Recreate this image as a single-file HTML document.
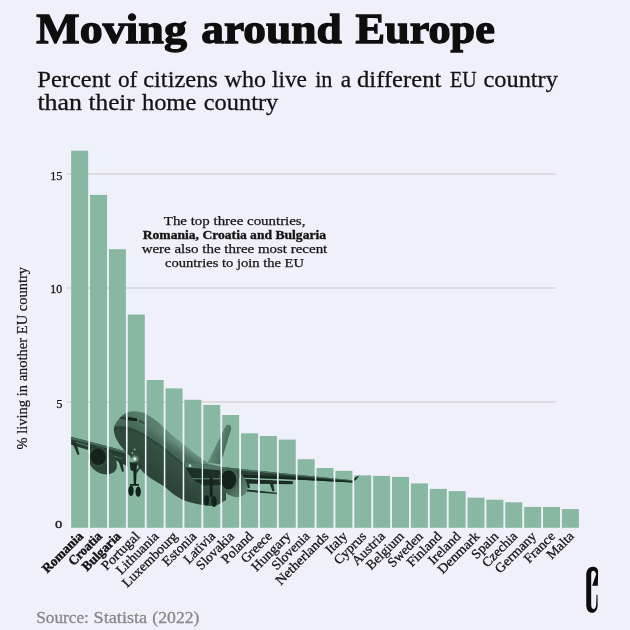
<!DOCTYPE html>
<html><head><meta charset="utf-8"><title>Moving around Europe</title>
<style>html,body{margin:0;padding:0;background:#F0F0FA;} body{width:630px;height:630px;overflow:hidden;font-family:"Liberation Serif",serif;} svg{display:block;will-change:transform}</style>
</head><body>
<svg width="630" height="630" viewBox="0 0 630 630" font-family='"Liberation Serif", serif'>
<rect x="0" y="0" width="630" height="630" fill="#F0F0FA"/>
<text x="36.3" y="42.9" font-size="43" font-weight="700" fill="#0E0E0E" textLength="150.6" lengthAdjust="spacingAndGlyphs" stroke="#0E0E0E" stroke-width="1.3">Moving</text>
<text x="201.3" y="42.9" font-size="43" font-weight="700" fill="#0E0E0E" textLength="140.5" lengthAdjust="spacingAndGlyphs" stroke="#0E0E0E" stroke-width="1.3">around</text>
<text x="355.6" y="42.9" font-size="43" font-weight="700" fill="#0E0E0E" textLength="139.2" lengthAdjust="spacingAndGlyphs" stroke="#0E0E0E" stroke-width="1.3">Europe</text>
<text x="37.3" y="87.3" font-size="23.5" font-weight="400" fill="#141414" textLength="73.5" lengthAdjust="spacingAndGlyphs" stroke="#141414" stroke-width="0.3">Percent</text>
<text x="117.9" y="87.3" font-size="23.5" font-weight="400" fill="#141414" textLength="19.4" lengthAdjust="spacingAndGlyphs" stroke="#141414" stroke-width="0.3">of</text>
<text x="143.2" y="87.3" font-size="23.5" font-weight="400" fill="#141414" textLength="74.7" lengthAdjust="spacingAndGlyphs" stroke="#141414" stroke-width="0.3">citizens</text>
<text x="224.6" y="87.3" font-size="23.5" font-weight="400" fill="#141414" textLength="41.3" lengthAdjust="spacingAndGlyphs" stroke="#141414" stroke-width="0.3">who</text>
<text x="271.9" y="87.3" font-size="23.5" font-weight="400" fill="#141414" textLength="35.1" lengthAdjust="spacingAndGlyphs" stroke="#141414" stroke-width="0.3">live</text>
<text x="315.2" y="87.3" font-size="23.5" font-weight="400" fill="#141414" textLength="17.3" lengthAdjust="spacingAndGlyphs" stroke="#141414" stroke-width="0.3">in</text>
<text x="340.8" y="87.3" font-size="23.5" font-weight="400" fill="#141414" textLength="10.4" lengthAdjust="spacingAndGlyphs" stroke="#141414" stroke-width="0.3">a</text>
<text x="357.0" y="87.3" font-size="23.5" font-weight="400" fill="#141414" textLength="84.3" lengthAdjust="spacingAndGlyphs" stroke="#141414" stroke-width="0.3">different</text>
<text x="450.1" y="87.3" font-size="23.5" font-weight="400" fill="#141414" textLength="26.6" lengthAdjust="spacingAndGlyphs" stroke="#141414" stroke-width="0.3">EU</text>
<text x="483.5" y="87.3" font-size="23.5" font-weight="400" fill="#141414" textLength="74.4" lengthAdjust="spacingAndGlyphs" stroke="#141414" stroke-width="0.3">country</text>
<text x="37.4" y="110.0" font-size="23.5" font-weight="400" fill="#141414" textLength="44.6" lengthAdjust="spacingAndGlyphs" stroke="#141414" stroke-width="0.3">than</text>
<text x="88.5" y="110.0" font-size="23.5" font-weight="400" fill="#141414" textLength="46.3" lengthAdjust="spacingAndGlyphs" stroke="#141414" stroke-width="0.3">their</text>
<text x="141.9" y="110.0" font-size="23.5" font-weight="400" fill="#141414" textLength="54.4" lengthAdjust="spacingAndGlyphs" stroke="#141414" stroke-width="0.3">home</text>
<text x="203.8" y="110.0" font-size="23.5" font-weight="400" fill="#141414" textLength="74.4" lengthAdjust="spacingAndGlyphs" stroke="#141414" stroke-width="0.3">country</text>
<line x1="66.9" x2="555.5" y1="174" y2="174" stroke="#DBDBE0" stroke-width="1.9"/>
<line x1="66.9" x2="555.5" y1="288" y2="288" stroke="#DBDBE0" stroke-width="1.9"/>
<line x1="66.9" x2="555.5" y1="402" y2="402" stroke="#DBDBE0" stroke-width="1.9"/>
<g fill="#89B8A2"><rect x="71.15" y="150.7" width="17.0" height="377.1"/><rect x="90.03" y="194.9" width="17.0" height="332.9"/><rect x="108.90" y="249.2" width="17.0" height="278.6"/><rect x="127.78" y="314.5" width="17.0" height="213.3"/><rect x="146.65" y="380" width="17.0" height="147.8"/><rect x="165.53" y="388.4" width="17.0" height="139.4"/><rect x="184.40" y="399.8" width="17.0" height="128.0"/><rect x="203.28" y="404.9" width="17.0" height="122.9"/><rect x="222.15" y="415" width="17.0" height="112.8"/><rect x="241.03" y="433.3" width="17.0" height="94.5"/><rect x="259.90" y="436" width="17.0" height="91.8"/><rect x="278.77" y="439.6" width="17.0" height="88.2"/><rect x="297.65" y="459.2" width="17.0" height="68.6"/><rect x="316.52" y="468" width="17.0" height="59.8"/><rect x="335.40" y="470.8" width="17.0" height="57.0"/><rect x="354.27" y="475.4" width="17.0" height="52.4"/><rect x="373.15" y="475.9" width="17.0" height="51.9"/><rect x="392.02" y="476.9" width="17.0" height="50.9"/><rect x="410.90" y="483.4" width="17.0" height="44.4"/><rect x="429.77" y="488.9" width="17.0" height="38.9"/><rect x="448.65" y="491.1" width="17.0" height="36.7"/><rect x="467.52" y="497.7" width="17.0" height="30.1"/><rect x="486.40" y="499.7" width="17.0" height="28.1"/><rect x="505.27" y="502.3" width="17.0" height="25.5"/><rect x="524.15" y="506.9" width="17.0" height="20.9"/><rect x="543.02" y="507" width="17.0" height="20.8"/><rect x="561.90" y="509.1" width="17.0" height="18.7"/></g>
<clipPath id="barclip"><rect x="71.15" y="150.7" width="17.0" height="377.1"/><rect x="90.03" y="194.9" width="17.0" height="332.9"/><rect x="108.90" y="249.2" width="17.0" height="278.6"/><rect x="127.78" y="314.5" width="17.0" height="213.3"/><rect x="146.65" y="380" width="17.0" height="147.8"/><rect x="165.53" y="388.4" width="17.0" height="139.4"/><rect x="184.40" y="399.8" width="17.0" height="128.0"/><rect x="203.28" y="404.9" width="17.0" height="122.9"/><rect x="222.15" y="415" width="17.0" height="112.8"/><rect x="241.03" y="433.3" width="17.0" height="94.5"/><rect x="259.90" y="436" width="17.0" height="91.8"/><rect x="278.77" y="439.6" width="17.0" height="88.2"/><rect x="297.65" y="459.2" width="17.0" height="68.6"/><rect x="316.52" y="468" width="17.0" height="59.8"/><rect x="335.40" y="470.8" width="17.0" height="57.0"/><rect x="354.27" y="475.4" width="17.0" height="52.4"/><rect x="373.15" y="475.9" width="17.0" height="51.9"/><rect x="392.02" y="476.9" width="17.0" height="50.9"/><rect x="410.90" y="483.4" width="17.0" height="44.4"/><rect x="429.77" y="488.9" width="17.0" height="38.9"/><rect x="448.65" y="491.1" width="17.0" height="36.7"/><rect x="467.52" y="497.7" width="17.0" height="30.1"/><rect x="486.40" y="499.7" width="17.0" height="28.1"/><rect x="505.27" y="502.3" width="17.0" height="25.5"/><rect x="524.15" y="506.9" width="17.0" height="20.9"/><rect x="543.02" y="507" width="17.0" height="20.8"/><rect x="561.90" y="509.1" width="17.0" height="18.7"/></clipPath>
<g clip-path="url(#barclip)"><defs>
<linearGradient id="fus" gradientUnits="userSpaceOnUse" x1="173" y1="436" x2="149" y2="474">
<stop offset="0" stop-color="#6E9883"/><stop offset="0.1" stop-color="#668F7B"/><stop offset="0.24" stop-color="#4A6E5C"/><stop offset="0.5" stop-color="#385544"/><stop offset="1" stop-color="#2C4336"/>
</linearGradient>
<linearGradient id="fin" gradientUnits="userSpaceOnUse" x1="213" y1="445" x2="227" y2="450">
<stop offset="0" stop-color="#73A08B"/><stop offset="0.22" stop-color="#5C8671"/><stop offset="1" stop-color="#446856"/>
</linearGradient>
<radialGradient id="lamp" gradientUnits="userSpaceOnUse" cx="134.8" cy="459" r="5.5">
<stop offset="0" stop-color="#CFE8DB"/><stop offset="0.35" stop-color="#8FBCA6" stop-opacity="0.8"/><stop offset="1" stop-color="#3A5847" stop-opacity="0"/>
</radialGradient>
<linearGradient id="wng" gradientUnits="userSpaceOnUse" x1="222" y1="0" x2="352" y2="0"><stop offset="0" stop-color="#2E4639"/><stop offset="0.5" stop-color="#263B2F"/><stop offset="1" stop-color="#1C3026"/></linearGradient>
<linearGradient id="nac2" gradientUnits="userSpaceOnUse" x1="225" y1="480" x2="246" y2="494"><stop offset="0" stop-color="#35503F"/><stop offset="1" stop-color="#5E8873"/></linearGradient>
<linearGradient id="noseg" gradientUnits="userSpaceOnUse" x1="120" y1="430" x2="190" y2="480"><stop offset="0" stop-color="#2E4639" stop-opacity="0.8"/><stop offset="0.45" stop-color="#2E4639" stop-opacity="0.55"/><stop offset="1" stop-color="#2E4639" stop-opacity="0.25"/></linearGradient>
<linearGradient id="noseu" gradientUnits="userSpaceOnUse" x1="118" y1="420" x2="176" y2="448"><stop offset="0" stop-color="#476A58" stop-opacity="0.75"/><stop offset="0.55" stop-color="#476A58" stop-opacity="0.5"/><stop offset="1" stop-color="#476A58" stop-opacity="0"/></linearGradient>
</defs>
<!-- tail fin -->
<path d="M207.5,462.5 L225.6,426.2 C226.4,424.4 229.6,424 230.8,426.2 C231.4,427.4 231.2,429 230.7,430.5 L220.3,464.6 Z" fill="url(#fin)"/>
<!-- left wing -->
<path d="M70.5,436.6 L90,441.8 L112,447.4 L128,452 L128,466.5 L112,458.5 L90,450.5 L70.5,444.7 Z" fill="#263D31"/>
<path d="M70.5,436.6 L90,441.8 L112,447.4 L128,452 L128,454.2 L112,449.7 L90,444.1 L70.5,439 Z" fill="#446856"/>
<path d="M76,442 L88,445.6 L88,446.4 L76,442.8 Z" fill="#8FBCA6" opacity="0.6"/>
<path d="M112,455 L122,458.2 L122,459 L112,455.8 Z" fill="#8FBCA6" opacity="0.55"/>
<path d="M72,442 L76.5,443.5 L79.5,454.5 L77.5,454.8 Z" fill="#1E3328"/>
<path d="M118.5,461 L122.5,462.5 L124,471.5 L122,471.8 Z" fill="#1E3328"/>
<!-- fuselage -->
<path d="M113.8,429.8 C114,426.5 115,424.5 116.5,422.3 C118.5,419.5 121,416.3 124.3,414 C126.5,412.5 129,411.6 131.9,411.5 C136,411.3 140.5,411.7 144.3,413.1 L150,416.4 L157.6,421.7 L165.2,428.8 L170,433.4 L182.6,443.6 L195,453.8 L207.5,463 L226,468 L226,500 L215.6,506 C207,506 197,504.5 183.4,500.2 L174.5,495 L164.4,486.4 L150.4,477.9 L144,472.9 L126.8,452.6 C119,445 114.4,437 113.8,429.8 Z" fill="url(#fus)"/>
<!-- nose: upper part tone + below-cheatline darkening -->
<path d="M113.8,429.8 C114,426.5 115,424.5 116.5,422.3 C118.5,419.5 121,416.3 124.3,414 C126.5,412.5 129,411.6 131.9,411.5 C136,411.3 140.5,411.7 144.3,413.1 L150,416.4 L157.6,421.7 L165.2,428.8 L170,433.4 L182.6,443.6 L172,455 L159.5,445 L143.3,434.5 C134,429.3 124,426 114.2,427.6 Z" fill="url(#noseu)"/>
<path d="M114.2,427.6 C124,426 134,429.3 143.3,434.5 L159.5,445 L185,466 L226,470 L226,500 L215.6,506 C207,506 197,504.5 183.4,500.2 L174.5,495 L164.4,486.4 L150.4,477.9 L144,472.9 L126.8,452.6 C119,445 114.4,437 113.8,429.8 Z" fill="url(#noseg)"/>
<!-- cockpit windows -->
<path d="M119.3,418.6 L121.5,416.6 L126.4,416.9 L126.2,419.9 Z" fill="#2A4033"/>
<path d="M128,417 L137.2,418.6 L137,421.2 L127.8,420.2 Z" fill="#14231A"/>
<path d="M138.6,419.4 L144.3,421.6 L144.6,424.6 L139,422.6 Z" fill="#3A5847"/>
<!-- cheatline -->
<path d="M114.6,427.2 C124,425.6 134,428.8 143.3,434.2 L159.5,444.6 L185,465.6" fill="none" stroke="#1E3328" stroke-width="0.9"/>
<path d="M114.4,428.8 C124,427.3 134,430.5 143.3,435.9 L159.5,446.3 L185,467.2" fill="none" stroke="#1E3328" stroke-width="0.5" opacity="0.8"/>
<!-- right wing -->
<path d="M183,461.8 L200,463.5 L221.5,467 L241,469 L241,478 L222,481 L190,482 Z" fill="#3A5847"/>
<path d="M221.5,467 L241,469 L295,474.5 L352.5,480.2 L353,482.6 L295,479.4 L241,477.4 L221.5,477.6 Z" fill="url(#wng)"/>
<path d="M221.5,467 L241,469 L295,474.5 L352.5,480.2 L352.5,481 L295,475.7 L241,470.6 L221.5,468.8 Z" fill="#527A66" opacity="0.85"/>
<path d="M241,474.6 L295,477.6 L352.5,481.4 L353,482.6 L295,479.4 L241,477.4 Z" fill="#16271E"/>
<path d="M183,461.8 L200,463.5 L221.5,467 L221.5,470.5 L185.5,467.6 Z" fill="#4E7663"/>
<path d="M185.5,467.6 L221.5,470.5 L222,478 L192,478 Z" fill="#1C3026"/>
<path d="M192,478.4 L221,478.4 L221,479.2 L192,479.2 Z" fill="#7FAF98" opacity="0.6"/>
<path d="M192.5,479.6 L221,479.6 L221,485 L203,485.5 Z" fill="#182A20"/>
<path d="M245,479 L293,481.2 L292.5,484.3 L245,483.6 Z" fill="#1A2C22"/>
<!-- winglet -->
<path d="M353,481.8 L354.4,478 L359.6,475 L356.4,479.6 Z" fill="#1C3026"/>
<!-- flap fairings right -->
<path d="M244,479.5 L248.5,480 L250,488 L247.8,488.3 Z" fill="#1E3328"/>
<path d="M268.5,480 L272.5,480.5 L274.5,491 L272.3,491.3 Z" fill="#1E3328"/>
<!-- stabilizer -->
<path d="M247,489.4 L277.5,492.8 L277.5,494 L247,491.6 Z" fill="#1C3026"/>
<!-- engine 2 -->
<path d="M219,477 C220,469 227,467 233,469 C241,471 247.5,480 247.5,488 C247.5,494.5 241,498 235,497 C226,495.5 218.5,487 219,477 Z" fill="url(#nac2)"/>
<ellipse cx="229" cy="479.6" rx="9.6" ry="11.2" fill="#41624F"/>
<ellipse cx="228.6" cy="479.7" rx="7.6" ry="9.5" fill="#14231A"/>
<!-- engine 1 -->
<path d="M88,455 C89,449 94,446.5 99,447 C108,448 116.9,456 116.9,466 C116.9,472.5 110,475 104,474.3 C95,473 87.5,465 88,455 Z" fill="#2E4639"/>
<ellipse cx="98.3" cy="456.9" rx="9" ry="9.5" fill="#35523F"/>
<ellipse cx="98.1" cy="456.7" rx="7.9" ry="8.4" fill="#14231A"/>
<!-- nose gear -->
<path d="M133,462 L137,462 L136,485 L133.8,485 Z" fill="#16271E"/>
<path d="M129.8,462 L133.5,462.5 L133.5,471.5 L130.5,470 Z" fill="#16271E"/>
<path d="M135,472 L141,465 L142,466 L136,474 Z" fill="#22362B"/>
<ellipse cx="131" cy="490.8" rx="2.7" ry="5.2" fill="#12211A"/>
<ellipse cx="138.2" cy="491.6" rx="2.7" ry="5.2" fill="#12211A"/>
<rect x="130" y="484" width="9" height="1.8" fill="#16271E"/>
<circle cx="134.8" cy="459" r="5.5" fill="url(#lamp)"/>
<circle cx="134.8" cy="459" r="1.4" fill="#D8EEE2"/>
<circle cx="134.6" cy="449.5" r="1" fill="#9CC7B2" opacity="0.8"/>
<circle cx="132.4" cy="453" r="0.9" fill="#9CC7B2" opacity="0.8"/>
<!-- main gear -->
<rect x="209.8" y="477.9" width="2.8" height="19" fill="#14231A"/>
<ellipse cx="206.6" cy="500.3" rx="2.5" ry="5.3" fill="#12211A"/>
<ellipse cx="214" cy="501.5" rx="2.6" ry="5.5" fill="#12211A"/>
<circle cx="190" cy="465.7" r="1.4" fill="#B5DCC8"/>
</g>
<text x="50.2" y="180.3" font-size="13" font-weight="400" fill="#141414" textLength="12.2" lengthAdjust="spacingAndGlyphs" stroke="#141414" stroke-width="0.25">15</text>
<text x="50.2" y="292.9" font-size="11.6" font-weight="400" fill="#141414" textLength="11.9" lengthAdjust="spacingAndGlyphs" stroke="#141414" stroke-width="0.3">10</text>
<text x="56.2" y="408.2" font-size="13.4" font-weight="400" fill="#141414" textLength="6.2" lengthAdjust="spacingAndGlyphs" stroke="#141414" stroke-width="0.25">5</text>
<text x="55.1" y="528.4" font-size="11" font-weight="400" fill="#141414" textLength="7.3" lengthAdjust="spacingAndGlyphs" stroke="#141414" stroke-width="0.3">0</text>
<g transform="translate(26.7,449.5) rotate(-90)"><text x="0" y="0" font-size="14" font-weight="400" fill="#141414" textLength="182.6" lengthAdjust="spacingAndGlyphs" stroke="#141414" stroke-width="0.2">% living in another EU country</text></g>
<g transform="translate(83.95,537) rotate(-45)"><text x="0" y="0" font-size="13.4" font-weight="700" fill="#141414" text-anchor="end" textLength="52.0" lengthAdjust="spacingAndGlyphs" stroke="#141414" stroke-width="0.4">Romania</text></g>
<g transform="translate(102.83,537) rotate(-45)"><text x="0" y="0" font-size="13.4" font-weight="700" fill="#141414" text-anchor="end" textLength="41.5" lengthAdjust="spacingAndGlyphs" stroke="#141414" stroke-width="0.4">Croatia</text></g>
<g transform="translate(121.70,537) rotate(-45)"><text x="0" y="0" font-size="13.4" font-weight="700" fill="#141414" text-anchor="end" textLength="49.0" lengthAdjust="spacingAndGlyphs" stroke="#141414" stroke-width="0.4">Bulgaria</text></g>
<g transform="translate(140.58,537) rotate(-45)"><text x="0" y="0" font-size="13.4" font-weight="400" fill="#141414" text-anchor="end" textLength="48.1" lengthAdjust="spacingAndGlyphs" stroke="#141414" stroke-width="0.28">Portugal</text></g>
<g transform="translate(159.45,537) rotate(-45)"><text x="0" y="0" font-size="13.4" font-weight="400" fill="#141414" text-anchor="end" textLength="54.1" lengthAdjust="spacingAndGlyphs" stroke="#141414" stroke-width="0.28">Lithuania</text></g>
<g transform="translate(178.33,537) rotate(-45)"><text x="0" y="0" font-size="13.4" font-weight="400" fill="#141414" text-anchor="end" textLength="72.2" lengthAdjust="spacingAndGlyphs" stroke="#141414" stroke-width="0.28">Luxembourg</text></g>
<g transform="translate(197.20,537) rotate(-45)"><text x="0" y="0" font-size="13.4" font-weight="400" fill="#141414" text-anchor="end" textLength="42.2" lengthAdjust="spacingAndGlyphs" stroke="#141414" stroke-width="0.28">Estonia</text></g>
<g transform="translate(216.08,537) rotate(-45)"><text x="0" y="0" font-size="13.4" font-weight="400" fill="#141414" text-anchor="end" textLength="38.8" lengthAdjust="spacingAndGlyphs" stroke="#141414" stroke-width="0.28">Lativia</text></g>
<g transform="translate(234.95,537) rotate(-45)"><text x="0" y="0" font-size="13.4" font-weight="400" fill="#141414" text-anchor="end" textLength="47.6" lengthAdjust="spacingAndGlyphs" stroke="#141414" stroke-width="0.28">Slovakia</text></g>
<g transform="translate(253.83,537) rotate(-45)"><text x="0" y="0" font-size="13.4" font-weight="400" fill="#141414" text-anchor="end" textLength="38.7" lengthAdjust="spacingAndGlyphs" stroke="#141414" stroke-width="0.28">Poland</text></g>
<g transform="translate(272.70,537) rotate(-45)"><text x="0" y="0" font-size="13.4" font-weight="400" fill="#141414" text-anchor="end" textLength="37.8" lengthAdjust="spacingAndGlyphs" stroke="#141414" stroke-width="0.28">Greece</text></g>
<g transform="translate(291.57,537) rotate(-45)"><text x="0" y="0" font-size="13.4" font-weight="400" fill="#141414" text-anchor="end" textLength="49.6" lengthAdjust="spacingAndGlyphs" stroke="#141414" stroke-width="0.28">Hungary</text></g>
<g transform="translate(310.45,537) rotate(-45)"><text x="0" y="0" font-size="13.4" font-weight="400" fill="#141414" text-anchor="end" textLength="47.6" lengthAdjust="spacingAndGlyphs" stroke="#141414" stroke-width="0.28">Slovenia</text></g>
<g transform="translate(329.32,537) rotate(-45)"><text x="0" y="0" font-size="13.4" font-weight="400" fill="#141414" text-anchor="end" textLength="68.8" lengthAdjust="spacingAndGlyphs" stroke="#141414" stroke-width="0.28">Netherlands</text></g>
<g transform="translate(348.20,537) rotate(-45)"><text x="0" y="0" font-size="13.4" font-weight="400" fill="#141414" text-anchor="end" textLength="25.2" lengthAdjust="spacingAndGlyphs" stroke="#141414" stroke-width="0.28">Italy</text></g>
<g transform="translate(367.07,537) rotate(-45)"><text x="0" y="0" font-size="13.4" font-weight="400" fill="#141414" text-anchor="end" textLength="39.8" lengthAdjust="spacingAndGlyphs" stroke="#141414" stroke-width="0.28">Cyprus</text></g>
<g transform="translate(385.95,537) rotate(-45)"><text x="0" y="0" font-size="13.4" font-weight="400" fill="#141414" text-anchor="end" textLength="41.0" lengthAdjust="spacingAndGlyphs" stroke="#141414" stroke-width="0.28">Austria</text></g>
<g transform="translate(404.82,537) rotate(-45)"><text x="0" y="0" font-size="13.4" font-weight="400" fill="#141414" text-anchor="end" textLength="47.4" lengthAdjust="spacingAndGlyphs" stroke="#141414" stroke-width="0.28">Belgium</text></g>
<g transform="translate(423.70,537) rotate(-45)"><text x="0" y="0" font-size="13.4" font-weight="400" fill="#141414" text-anchor="end" textLength="43.8" lengthAdjust="spacingAndGlyphs" stroke="#141414" stroke-width="0.28">Sweden</text></g>
<g transform="translate(442.57,537) rotate(-45)"><text x="0" y="0" font-size="13.4" font-weight="400" fill="#141414" text-anchor="end" textLength="43.2" lengthAdjust="spacingAndGlyphs" stroke="#141414" stroke-width="0.28">Finland</text></g>
<g transform="translate(461.45,537) rotate(-45)"><text x="0" y="0" font-size="13.4" font-weight="400" fill="#141414" text-anchor="end" textLength="39.9" lengthAdjust="spacingAndGlyphs" stroke="#141414" stroke-width="0.28">Ireland</text></g>
<g transform="translate(480.32,537) rotate(-45)"><text x="0" y="0" font-size="13.4" font-weight="400" fill="#141414" text-anchor="end" textLength="53.1" lengthAdjust="spacingAndGlyphs" stroke="#141414" stroke-width="0.28">Denmark</text></g>
<g transform="translate(499.20,537) rotate(-45)"><text x="0" y="0" font-size="13.4" font-weight="400" fill="#141414" text-anchor="end" textLength="32.0" lengthAdjust="spacingAndGlyphs" stroke="#141414" stroke-width="0.28">Spain</text></g>
<g transform="translate(518.07,537) rotate(-45)"><text x="0" y="0" font-size="13.4" font-weight="400" fill="#141414" text-anchor="end" textLength="43.7" lengthAdjust="spacingAndGlyphs" stroke="#141414" stroke-width="0.28">Czechia</text></g>
<g transform="translate(536.95,537) rotate(-45)"><text x="0" y="0" font-size="13.4" font-weight="400" fill="#141414" text-anchor="end" textLength="52.2" lengthAdjust="spacingAndGlyphs" stroke="#141414" stroke-width="0.28">Germany</text></g>
<g transform="translate(555.82,537) rotate(-45)"><text x="0" y="0" font-size="13.4" font-weight="400" fill="#141414" text-anchor="end" textLength="37.9" lengthAdjust="spacingAndGlyphs" stroke="#141414" stroke-width="0.28">France</text></g>
<g transform="translate(574.70,537) rotate(-45)"><text x="0" y="0" font-size="13.4" font-weight="400" fill="#141414" text-anchor="end" textLength="32.3" lengthAdjust="spacingAndGlyphs" stroke="#141414" stroke-width="0.28">Malta</text></g>
<text x="234.6" y="225" font-size="13.4" font-weight="400" fill="#141414" text-anchor="middle" textLength="141.6" lengthAdjust="spacingAndGlyphs" stroke="#141414" stroke-width="0.25">The top three countries,</text>
<text x="234.4" y="239" font-size="13.4" font-weight="700" fill="#141414" text-anchor="middle" textLength="183.3" lengthAdjust="spacingAndGlyphs" stroke="#141414" stroke-width="0.35">Romania, Croatia and Bulgaria</text>
<text x="234.5" y="253" font-size="13.4" font-weight="400" fill="#141414" text-anchor="middle" textLength="185.6" lengthAdjust="spacingAndGlyphs" stroke="#141414" stroke-width="0.25">were also the three most recent</text>
<text x="234.5" y="267" font-size="13.4" font-weight="400" fill="#141414" text-anchor="middle" textLength="139" lengthAdjust="spacingAndGlyphs" stroke="#141414" stroke-width="0.25">countries to join the EU</text>
<text x="36.3" y="623.3" font-size="17" font-weight="400" fill="#878787" textLength="52.6" lengthAdjust="spacingAndGlyphs" stroke="#878787" stroke-width="0.3">Source:</text>
<text x="93.6" y="623.3" font-size="17" font-weight="400" fill="#878787" textLength="53.6" lengthAdjust="spacingAndGlyphs" stroke="#878787" stroke-width="0.3">Statista</text>
<text x="152.3" y="623.3" font-size="17" font-weight="400" fill="#878787" textLength="47.2" lengthAdjust="spacingAndGlyphs" stroke="#878787" stroke-width="0.3">(2022)</text>
<path transform="translate(575,560) scale(0.095238)" fill="#0C0C0C" d="M118,160 C118,100 150,72 185,72 C220,72 243,90 243,125 L240,270 L180,270 L222,150 C218,125 205,112 190,112 C178,112 170,125 170,150 L170,470 C170,500 180,515 195,515 C210,515 220,500 222,470 L226,365 L236,365 L238,470 C238,520 215,555 180,555 C145,555 118,525 118,470 Z"/>
</svg>
</body></html>
